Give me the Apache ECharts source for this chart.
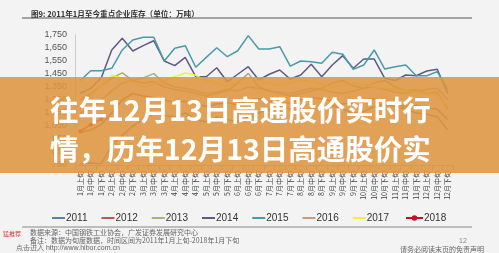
<!DOCTYPE html>
<html><head><meta charset="utf-8">
<script src="https://cdn.jsdelivr.net/npm/echarts@6/dist/echarts.min.js"></script>
<style>html,body{margin:0;padding:0;background:#f3f3f3}#c{width:499px;height:253px}</style>
</head><body><div id="c"></div>
<script>
const categories = ['1月上旬','1月中旬','1月下旬','2月上旬','2月中旬','2月下旬','3月上旬','3月中旬','3月下旬','4月上旬','4月中旬','4月下旬','5月上旬','5月中旬','5月下旬','6月上旬','6月中旬','6月下旬','7月上旬','7月中旬','7月下旬','8月上旬','8月中旬','8月下旬','9月上旬','9月中旬','9月下旬','10月上旬','10月中旬','10月下旬','11月上旬','11月中旬','11月下旬','12月上旬','12月中旬','12月下旬'];
const seriesNames = ['2011','2012','2013','2014','2015','2016','2017','2018'];
const y2011 = [760,765,760,900,980,1050,1100,1150,1130,1120,1150,1100,1080,1120,1100,1080,1120,1150,1180,1200,1180,1160,1180,1200,1210,1180,1150,1160,1200,1220,1200,1180,1150,1140,1120,1020];
const y2012 = [1000,1020,1060,1150,1250,1300,1280,1270,1250,1230,1240,1220,1200,1220,1230,1210,1250,1260,1240,1220,1230,1250,1270,1260,1240,1220,1230,1250,1260,1240,1220,1200,1210,1190,1180,1100];
const y2013 = [1150,1180,1250,1320,1380,1400,1420,1453,1380,1350,1340,1320,1300,1310,1330,1320,1350,1340,1320,1310,1300,1320,1340,1330,1310,1300,1320,1340,1350,1330,1310,1300,1320,1330,1340,1250];
const y2014 = [1300,1340,1420,1635,1725,1627,1668,1706,1550,1514,1578,1429,1429,1498,1390,1448,1506,1404,1448,1481,1411,1442,1525,1429,1519,1591,1494,1565,1565,1417,1400,1442,1437,1473,1486,1300];
const y2015 = [1400,1475,1475,1494,1635,1712,1732,1732,1550,1648,1668,1502,1578,1652,1583,1629,1745,1642,1642,1660,1511,1550,1545,1532,1617,1602,1486,1519,1635,1488,1506,1519,1437,1437,1468,1330];
const y2016 = [1250,1300,1360,1420,1459,1400,1380,1390,1350,1330,1320,1300,1280,1300,1320,1380,1455,1350,1320,1300,1280,1300,1320,1340,1380,1400,1360,1340,1380,1400,1350,1320,1330,1300,1310,1180];
const y2017 = [1200,1280,1360,1440,1420,1380,1350,1370,1400,1430,1458,1440,1400,1380,1360,1390,1420,1400,1380,1360,1380,1400,1390,1370,1350,1360,1380,1370,1350,1340,1330,1320,1310,1300,1290,1200];
const y2018 = [1010,1060,1104];
const yTicks = [750,850,950,1050,1150,1250,1350,1450,1550,1650,1750];
const legendLabels = ['2011','2012','2013','2014','2015','2016','2017','2018'];

const colors = ['#5b7db0','#b85a5a','#a7b27a','#5e5a84','#4a9aaa','#c99b74','#f4f03a','#c8102e'];
const allData = [y2011,y2012,y2013,y2014,y2015,y2016,y2017,y2018];

const chart = echarts.init(document.getElementById('c'), null, {renderer:'canvas'});
const fmt = v => String(v).replace(/\B(?=(\d{3})+(?!\d))/g, ',');
const series = seriesNames.map((n,i)=>({
  name:n, type:'line', data: allData[i],
  symbol: i===7 ? 'circle' : 'none', symbolSize: 4, showSymbol: i===7,
  lineStyle:{width:1.5,color:colors[i]}, itemStyle:{color:colors[i]},
  z: 2
}));
const legText = {fontSize:10,color:'#333',fontFamily:'Liberation Sans',padding:[0,0,0,-4]};
chart.setOption({
  animation:false,
  backgroundColor:'#f3f3f3',
  title:{text:'图9: 2011年1月至今重点企业库存（单位：万吨）',left:26,top:5,
    textStyle:{fontSize:7.6,fontWeight:'bold',color:'#333',fontFamily:'Noto Sans CJK SC'}},
  grid:{left:75,right:46,top:35,bottom:88},
  legend:[
    {data:legendLabels.slice(0,7),left:47,top:208,icon:'rect',itemWidth:13,itemHeight:2,itemGap:14,textStyle:legText},
    {data:legendLabels.slice(7),left:400,top:208,itemWidth:17,itemHeight:7,textStyle:legText}
  ],
  xAxis:{type:'category',data:categories,boundaryGap:true,
    axisLine:{lineStyle:{color:'#aaa'}},axisTick:{show:true,lineStyle:{color:'#aaa'}},
    axisLabel:{rotate:90,interval:0,fontSize:7,color:'#444',margin:6,fontFamily:'Noto Sans CJK SC'}},
  yAxis:{type:'value',min:yTicks[0],max:yTicks[yTicks.length-1],interval:100,
    splitLine:{show:false},axisLine:{show:true,lineStyle:{color:'#ccc'}},axisTick:{show:false},
    axisLabel:{fontSize:9,color:'#555',margin:8,formatter:v=>fmt(v),fontFamily:'Liberation Sans'}},
  series,
  graphic:[
    {type:'line',shape:{x1:22,y1:18,x2:472,y2:18},style:{stroke:'#555',lineWidth:1},z:50},
    {type:'line',shape:{x1:22,y1:227,x2:472,y2:227},style:{stroke:'#888',lineWidth:1},z:50},
    {type:'rect',shape:{x:0,y:77,width:499,height:96},style:{fill:'rgba(222,149,64,0.88)'},z:100},
    {type:'text',left:50,top:96,style:{text:'往年12月13日高通股价实时行',fill:'#fff',font:'bold 28.5px "Noto Sans CJK SC"'},z:101},
    {type:'text',left:50,top:135,style:{text:'情，历年12月13日高通股价实',fill:'#fff',font:'bold 28.5px "Noto Sans CJK SC"'},z:101},
    {type:'text',left:30,top:229,style:{text:'数据来源：中国钢铁工业协会，广发证券发展研究中心',fill:'#666',font:'7px "Noto Sans CJK SC"'},z:50},
    {type:'text',left:30,top:237,style:{text:'备注：数据为旬度数据，时间区间为2011年1月上旬-2018年1月下旬',fill:'#666',font:'7px "Noto Sans CJK SC"'},z:50},
    {type:'text',left:3,top:231,style:{text:'猛推荐',fill:'#d04040',font:'6px "Noto Sans CJK SC"'},z:50},
    {type:'text',left:16,top:245,style:{text:'点击进入 http://www.hibor.com.cn',fill:'#666',font:'7px "Liberation Sans"'},z:50},
    {type:'text',left:459,top:238,style:{text:'12',fill:'#888',font:'7px "Liberation Sans"'},z:50},
    {type:'text',left:400,top:246,style:{text:'请务必阅读末页的免责声明',fill:'#666',font:'7px "Noto Sans CJK SC"'},z:50}
  ]
});
</script></body></html>
